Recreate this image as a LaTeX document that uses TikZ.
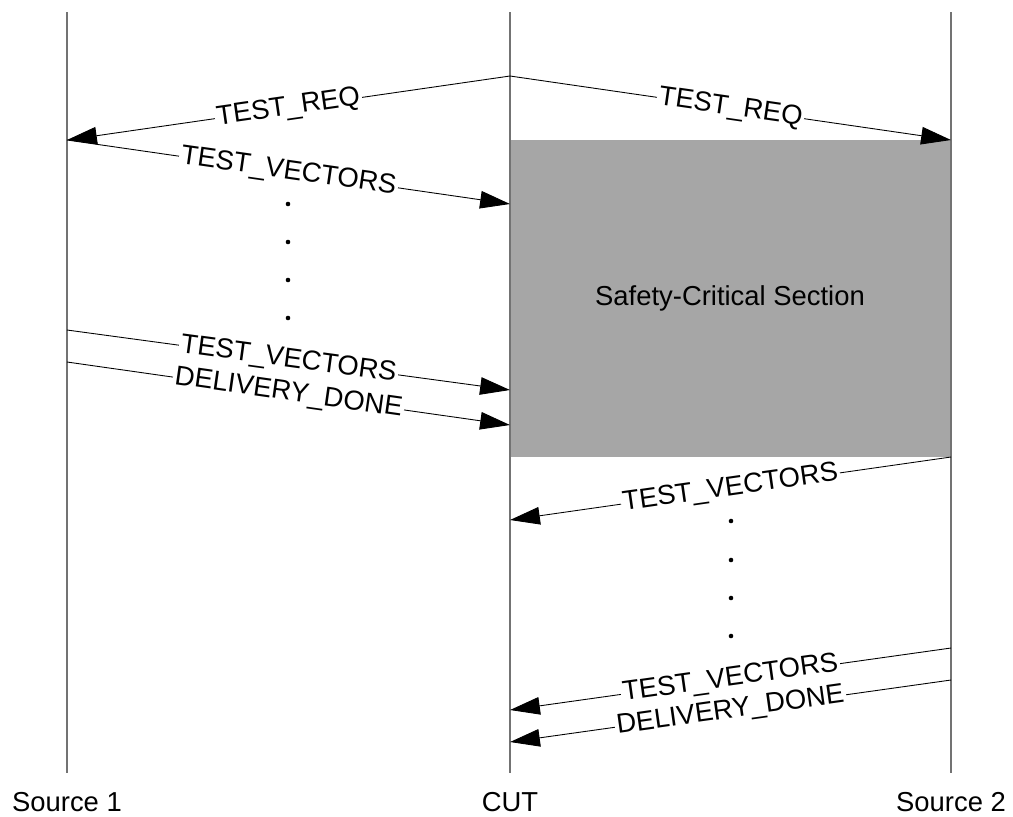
\documentclass[tikz,border=0pt]{standalone}
\usepackage{fontspec}
\setmainfont{Liberation Sans}
\usetikzlibrary{arrows.meta,positioning}
\tikzset{
    lifeline/.style={black!55,line width=.6pt},
    msg/.style={-{Triangle[length=17pt,width=10pt]},line width=.5pt},
    msg label/.style={midway,sloped,fill=white,inner sep=1pt},
    safety color/.style={fill=black!35,draw=none},
    dot/.style={fill=black},
}
\tikzstyle{every node}=[font=\fontsize{15.6}{18}\selectfont]

\begin{document}
\begin{tikzpicture}[x=.02cm,y=-.02cm]
        \useasboundingbox (0,0) rectangle (1013,816);
        % safety-critical section
        \fill[safety color] (510,140) rectangle (951,457);
        \node (safe) at (730,298) {Safety-Critical Section};
        
        % lifelines
        \coordinate (s1top) at (67,12);   \coordinate (s1bot) at (67,773);
        \coordinate (cuttop) at (510,12); \coordinate (cutbot) at (510,773);
        \coordinate (s2top) at (951,12);  \coordinate (s2bot) at (951,773);
        \draw[lifeline] (s1top) -- (s1bot);
        \draw[lifeline] (cuttop) -- (cutbot);
        \draw[lifeline] (s2top) -- (s2bot);
        \node (src1) at (67,802) {Source 1};
        \node (cut) at (510,802) {CUT};
        \node (src2) at (951,802) {Source 2};
        
        % message end points
        \coordinate (c-req) at (510,76);
        \coordinate (s1-req) at (67,140);
        \coordinate (s2-req) at (951,140);
        \coordinate (c-tv1) at (510,204);
        \coordinate (s1-tv2) at (67,330);
        \coordinate (c-tv2) at (510,390);
        \coordinate (s1-dd) at (67,362);
        \coordinate (c-dd1) at (510,425);
        \coordinate (s2-tv3) at (951,457);
        \coordinate (c-tv3) at (510,520);
        \coordinate (s2-tv4) at (951,648);
        \coordinate (c-tv4) at (510,710);
        \coordinate (s2-dd) at (951,680);
        \coordinate (c-dd2) at (510,742);
        
        % first phase: source 1
        \draw[msg] (c-req) -- node[msg label] {TEST\_REQ} (s1-req);
        \draw[msg] (c-req) -- node[msg label] {TEST\_REQ} (s2-req);
        \draw[msg] (s1-req) -- node[msg label] {TEST\_VECTORS} (c-tv1);
        \foreach \y in {204,242,280,318}{
            \fill[dot] (288,\y) circle[radius=1.3pt];
        }
        \draw[msg] (s1-tv2) -- node[msg label] {TEST\_VECTORS} (c-tv2);
        \draw[msg] (s1-dd) -- node[msg label] {DELIVERY\_DONE} (c-dd1);
        
        % second phase: source 2
        \draw[msg] (s2-tv3) -- node[msg label] {TEST\_VECTORS} (c-tv3);
        \foreach \y in {521,560,598,636}{
            \fill[dot] (731,\y) circle[radius=1.3pt];
        }
        \draw[msg] (s2-tv4) -- node[msg label] {TEST\_VECTORS} (c-tv4);
        \draw[msg] (s2-dd) -- node[msg label] {DELIVERY\_DONE} (c-dd2);
    \end{tikzpicture}
\end{document}
